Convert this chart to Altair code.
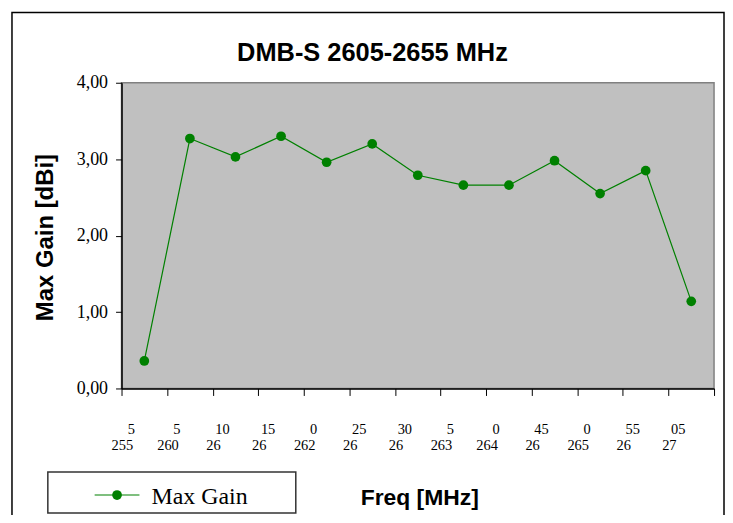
import altair as alt
import pandas as pd

# ---- data ----
freqs = ["2555", "2605", "2610", "2615", "2620", "2625", "2630",
         "2635", "2640", "2645", "2650", "2655", "2705"]
gain = [0.36, 3.27, 3.03, 3.30, 2.96, 3.20, 2.79, 2.66, 2.66, 2.98, 2.55, 2.85, 1.14]
label_top = ["5", "5", "10", "15", "0", "25", "30", "5", "0", "45", "0", "55", "05"]
label_bottom = ["255", "260", "26", "26", "262", "26", "26", "263", "264", "26", "265", "26", "27"]
series_name = "Max Gain"
chart_title = "DMB-S 2605-2655 MHz"
x_title = "Freq [MHz]"
y_title = "Max Gain [dBi]"
y_ticks = [0, 1, 2, 3, 4]

GREEN = "#008000"
SERIF = "Liberation Serif"
SANS = "Liberation Sans"

df = pd.DataFrame({"freq": freqs, "gain": gain, "top": label_top, "bottom": label_bottom})
one = pd.DataFrame({"k": [0]})

W, H = 595, 307

x_enc = alt.X(
    "freq:N", sort=freqs, bandPosition=0.5,
    scale=alt.Scale(type="band", domain=freqs, paddingInner=0, paddingOuter=0),
    axis=alt.Axis(labels=False, ticks=True, tickBand="extent", tickSize=7,
                  tickColor="black", domainColor="black", domainWidth=1.5,
                  title=x_title, titleFont=SANS, titleFontSize=23, titleFontWeight="bold",
                  titleColor="black", titleX=299, titleY=117, titleBaseline="alphabetic",
                  titleAlign="center"),
)
y_enc = alt.Y(
    "gain:Q",
    scale=alt.Scale(domain=[0, 4], nice=False, zero=True),
    axis=alt.Axis(values=y_ticks,
                  labelExpr="replace(format(datum.value, '.2f'), '.', ',')",
                  labelFont=SERIF, labelFontSize=18, labelColor="black", labelPadding=8,
                  tickSize=6, tickColor="black", domainColor="black", domainWidth=1.5,
                  grid=False, title=y_title, titleFont=SANS, titleFontSize=24,
                  titleFontWeight="bold", titleColor="black", titleX=-76, titleY=155,
                  titleAngle=270, titleBaseline="middle", titleAlign="center"),
)

line = alt.Chart(df).mark_line(color=GREEN, strokeWidth=1.2).encode(x=x_enc, y=y_enc)
pts = alt.Chart(df).mark_circle(color=GREEN, size=95, opacity=1).encode(x=x_enc, y=y_enc)

lab_top = alt.Chart(df).mark_text(font=SERIF, fontSize=14.5, dx=-13, baseline="alphabetic",
                                  align="center", color="black").encode(
    x=x_enc, y=alt.value(353), text="top:N")
lab_bot = alt.Chart(df).mark_text(font=SERIF, fontSize=14.5, dx=-22, baseline="alphabetic",
                                  align="center", color="black").encode(
    x=x_enc, y=alt.value(369), text="bottom:N")

title = alt.Chart(one).mark_text(font=SANS, fontSize=25.5, fontWeight="bold", color="black",
                                 baseline="alphabetic", align="center").encode(
    x=alt.value(252), y=alt.value(-22), text=alt.value(chart_title))

border = alt.Chart(one).mark_rect(filled=False, stroke="black", strokeWidth=1.5).encode(
    x=alt.value(-110), x2=alt.value(605), y=alt.value(-70.5), y2=alt.value(460))

leg_box = alt.Chart(one).mark_rect(filled=False, stroke="#333333", strokeWidth=1.5).encode(
    x=alt.value(-74), x2=alt.value(175), y=alt.value(391), y2=alt.value(432))
leg_line = alt.Chart(one).mark_rule(color=GREEN, strokeWidth=1.2).encode(
    x=alt.value(-27), x2=alt.value(18), y=alt.value(414))
leg_dot = alt.Chart(one).mark_circle(color=GREEN, size=95, opacity=1).encode(
    x=alt.value(-4.5), y=alt.value(414))
leg_text = alt.Chart(one).mark_text(font=SERIF, fontSize=24, color="black", align="left",
                                    baseline="alphabetic").encode(
    x=alt.value(30), y=alt.value(423), text=alt.value(series_name))

chart = alt.layer(line, pts, lab_top, lab_bot, title, border,
                  leg_box, leg_line, leg_dot, leg_text).properties(
    width=W, height=H,
    autosize=alt.AutoSizeParams(type="none"),
    padding={"left": 114, "top": 74, "right": 11, "bottom": 126},
    background="white",
).configure_view(fill="#C0C0C0", stroke="#808080", strokeWidth=1.5)

chart.save("out.html", embed_options={"renderer": "svg", "actions": False})
